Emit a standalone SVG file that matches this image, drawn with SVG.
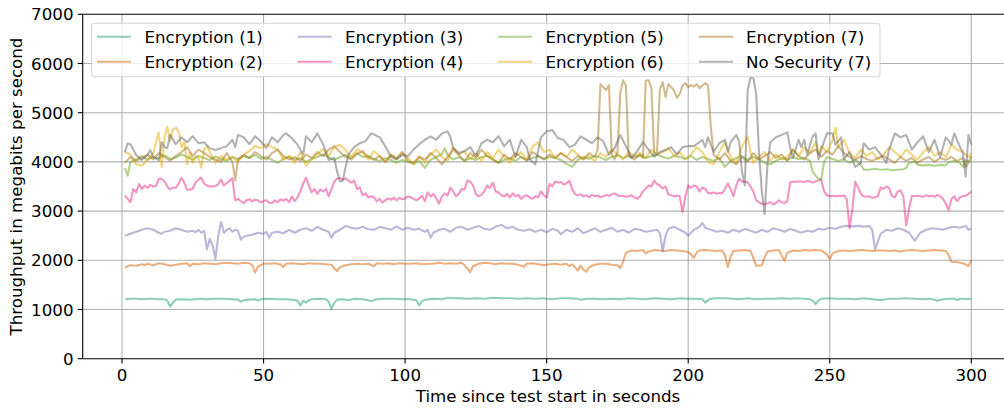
<svg xmlns="http://www.w3.org/2000/svg" width="1004" height="410" viewBox="0 0 1004 410">
<style>
text{font-family:"DejaVu Sans","Liberation Sans",sans-serif;font-size:16.67px;fill:#000}
.grid line{stroke:#b0b0b0;stroke-width:1.1}
.spine{stroke:#000;stroke-width:1.1;fill:none}
.tick{stroke:#000;stroke-width:1.1}
.s{fill:none;stroke-width:2.08;stroke-opacity:0.5;stroke-linejoin:round;vector-effect:non-scaling-stroke}
.h{stroke-width:2.08;stroke-opacity:0.5}
.c1{stroke:#1b9e77}.c2{stroke:#d95f02}.c3{stroke:#7570b3}.c4{stroke:#e7298a}
.c5{stroke:#66a61e}.c6{stroke:#e6ab02}.c7{stroke:#a6761d}.c8{stroke:#666666}
.yt{text-anchor:end}.xt{text-anchor:middle}
</style>
<rect width="1004" height="410" fill="#fff"/>
<g id="grid" class="grid">
<line x1="122" y1="14.3" x2="122" y2="358.7"/>
<line x1="263.55" y1="14.3" x2="263.55" y2="358.7"/>
<line x1="405.1" y1="14.3" x2="405.1" y2="358.7"/>
<line x1="546.65" y1="14.3" x2="546.65" y2="358.7"/>
<line x1="688.2" y1="14.3" x2="688.2" y2="358.7"/>
<line x1="829.75" y1="14.3" x2="829.75" y2="358.7"/>
<line x1="971.3" y1="14.3" x2="971.3" y2="358.7"/>
<line x1="82.7" y1="309.5" x2="1004" y2="309.5"/>
<line x1="82.7" y1="260.3" x2="1004" y2="260.3"/>
<line x1="82.7" y1="211.1" x2="1004" y2="211.1"/>
<line x1="82.7" y1="161.9" x2="1004" y2="161.9"/>
<line x1="82.7" y1="112.7" x2="1004" y2="112.7"/>
<line x1="82.7" y1="63.5" x2="1004" y2="63.5"/>
</g>
<g id="connectors" transform="translate(122,358.7) scale(2.831,-0.492)">
<polyline id="enc1" class="s c1" points="1,121 3,122 5,122 7,121 9,122 11,122 13,121 15,121 16,118 17,106 18,114 19,120 21,121 24,120 27,122 30,121 33,122 36,122 39,121 41,120 42,116 43,119 45,120 47,121 48,118 49,121 52,122 55,121 58,121 60,120 62,118 63,108 64,118 65,114 66,119 67,121 70,122 72,121 73,116 74,101 75,114 76,120 78,121 80,119 82,122 85,121 87,119 88,117 90,121 93,122 96,122 99,121 102,121 104,119 105,108 106,117 107,120 110,122 113,121 115,124 117,123 119,123 122,122 125,123 128,122 131,124 134,123 137,123 140,122 143,123 146,122 149,123 150,122 152,121 155,123 158,123 161,122 162,120 164,122 167,122 170,121 173,122 176,121 179,123 182,122 185,121 188,123 191,122 194,121 197,123 200,122 203,122 205,121 206,114 207,119 208,122 210,123 213,123 216,122 218,121 221,123 224,121 227,122 230,122 233,123 236,122 238,123 241,122 243,121 244,118 245,111 246,118 247,122 250,123 253,122 256,122 259,121 262,123 265,121 268,119 271,122 274,122 277,123 280,122 283,121 285,122 287,120 288,118 290,121 292,122 294,122 295,119 296,122 297,122 298,121 300,122"/>
<polyline id="enc2" class="s c2" points="1,185 2,188 3,190 5,189 7,192 8,190 9,193 11,190 13,194 15,192 17,189 19,191 21,193 23,194 24,188 25,193 27,192 29,194 31,193 33,192 35,194 37,195 39,194 41,193 43,195 45,194 46,190 47,175 48,187 50,193 52,193 54,194 56,192 57,186 58,193 60,194 62,193 64,192 66,194 68,193 70,193 72,192 74,191 75,184 76,178 77,186 79,190 81,192 83,193 85,192 87,193 89,188 90,194 92,193 94,194 96,192 98,194 100,193 102,193 104,194 106,192 108,193 110,193 112,195 114,193 116,194 118,193 120,195 121,190 122,183 123,176 124,188 126,193 128,195 130,194 132,192 134,194 136,193 138,193 140,191 142,187 143,193 145,194 147,192 149,190 151,192 153,193 155,191 157,193 158,188 159,192 160,186 161,179 162,189 163,181 164,177 165,186 167,191 169,193 171,193 173,191 175,190 176,184 177,197 178,215 180,220 182,219 184,221 185,214 186,218 188,221 190,220 192,219 194,221 196,220 198,219 200,217 201,212 202,205 203,216 204,220 206,221 208,220 210,219 212,220 213,210 214,186 215,208 216,219 218,220 220,221 222,219 223,205 224,189 226,190 227,206 228,218 230,220 232,221 233,210 234,199 235,215 237,220 239,219 241,221 243,220 245,221 247,220 249,212 250,202 251,214 253,219 255,220 257,219 259,220 261,221 263,220 265,219 267,220 269,220 271,219 273,220 275,218 277,220 279,221 281,220 283,219 285,220 287,221 289,220 291,219 292,210 293,197 295,196 297,194 298,192 299,188 300,201"/>
<polyline id="enc3" class="s c3" points="1,250 3,254 5,258 7,262 9,265 11,262 13,256 14,254 15,258 17,260 19,265 21,262 23,258 25,260 26,257 27,262 28,256 29,260 30,222 31,244 32,230 33,203 34,250 35,278 36,256 37,262 38,265 39,258 40,262 41,260 42,242 43,248 44,250 46,252 48,256 50,254 51,258 52,246 53,256 55,258 57,255 59,262 61,256 63,262 65,265 67,260 69,268 71,262 73,258 74,246 75,256 77,262 79,270 81,266 83,264 85,268 87,263 89,262 91,268 93,265 95,262 97,269 99,262 101,266 103,262 105,264 107,258 108,262 109,246 110,256 112,262 114,264 116,258 118,266 120,268 122,262 124,266 126,270 128,264 130,262 132,268 134,272 136,265 138,268 140,262 142,260 144,263 146,258 148,262 150,257 152,264 154,260 155,253 157,262 159,258 161,265 163,255 165,260 167,265 169,258 171,262 173,266 175,258 177,262 179,256 181,264 183,262 185,258 187,260 189,262 190,255 191,218 192,250 193,264 195,268 197,262 199,256 200,250 202,262 204,268 205,276 206,266 208,262 210,258 212,260 214,256 216,262 218,258 220,264 222,260 224,256 226,262 228,258 230,265 232,262 234,258 236,264 238,260 240,256 242,260 244,258 246,264 248,262 250,266 252,264 254,268 256,270 258,269 260,270 262,268 264,270 265,262 266,222 267,238 268,254 270,262 272,260 274,265 276,262 278,256 280,240 281,248 282,256 284,262 286,265 288,264 290,262 292,266 294,268 296,266 298,270 299,262 300,265"/>
<polyline id="enc4" class="s c4" points="1,332 2,325 3,318 4,345 5,338 6,355 7,345 8,352 9,347 10,353 11,350 12,351 13,365 14,366 15,360 16,350 17,344 18,348 19,347 20,356 21,368 22,358 23,344 24,343 25,346 26,358 27,364 28,368 29,356 30,352 31,350 32,350 33,351 34,355 35,364 36,352 37,357 38,362 39,367 40,322 41,325 42,320 43,316 44,322 45,324 46,320 47,323 48,322 49,318 50,320 51,322 52,317 53,316 54,322 55,318 56,324 57,321 58,325 59,318 60,330 61,320 62,328 63,340 64,356 65,368 66,352 67,338 68,345 69,335 70,344 71,340 72,345 73,330 74,345 75,360 76,366 77,367 78,365 79,366 80,362 81,358 82,362 83,345 84,348 85,332 86,336 87,328 88,330 89,328 90,320 91,325 92,317 93,322 94,326 95,323 96,327 97,322 98,327 99,324 100,325 101,330 102,328 103,325 104,322 105,326 106,331 107,320 108,338 109,330 110,335 111,326 112,315 113,330 114,336 115,332 116,348 117,340 118,330 119,335 120,345 121,344 122,362 123,360 124,352 125,335 126,330 127,333 128,340 129,352 130,347 131,358 132,340 133,338 134,332 135,330 136,335 137,328 138,336 139,330 140,333 141,325 142,330 143,332 144,328 145,325 146,330 147,328 148,340 149,332 150,328 151,355 152,350 153,360 154,358 155,359 156,354 157,356 158,362 159,345 160,335 161,332 162,334 163,330 164,332 165,328 166,333 167,330 168,332 169,328 170,330 171,333 172,331 173,334 174,336 175,332 176,330 177,331 178,329 179,330 180,332 181,328 182,325 183,330 184,340 185,346 186,352 187,350 188,362 189,355 190,352 191,346 192,350 193,334 194,332 195,330 196,331 197,330 198,298 199,330 200,352 201,347 202,352 203,350 204,340 205,348 206,345 207,337 208,336 209,338 210,335 211,337 212,336 213,345 214,356 215,345 216,330 217,352 218,366 219,360 220,360 221,358 222,350 223,340 224,322 225,318 226,315 227,314 228,316 229,318 230,314 231,316 232,322 233,318 234,316 235,320 236,358 237,360 238,359 239,360 240,360 241,359 242,361 243,360 244,358 245,360 246,362 247,365 248,340 249,332 250,330 251,331 252,330 253,331 254,330 255,332 256,325 257,265 258,305 259,360 260,348 261,335 262,330 263,329 264,330 265,327 266,328 267,330 268,348 269,345 270,350 271,347 272,330 273,328 274,340 275,342 276,330 277,271 278,305 279,331 280,330 281,331 282,330 283,329 284,332 285,330 286,331 287,329 288,333 289,330 290,325 291,315 292,302 293,325 294,330 295,320 296,328 297,330 298,331 299,335 300,340"/>
<polyline id="enc5" class="s c5" points="1,388 2,372 3,400 5,405 7,412 9,404 11,410 13,407 15,414 17,406 19,409 21,415 23,410 25,405 27,412 29,408 31,404 33,411 35,406 37,402 39,410 41,406 43,412 45,408 47,414 49,406 51,410 53,404 55,398 57,406 59,411 61,404 63,408 65,400 67,406 69,410 71,415 73,409 75,404 77,410 79,414 81,408 83,418 85,410 87,412 89,406 91,402 93,408 95,404 97,398 99,404 101,400 103,396 105,402 107,388 109,404 111,410 113,416 114,428 115,414 117,405 119,410 121,402 123,408 125,404 127,410 129,412 131,406 133,398 135,404 137,408 139,402 141,410 143,404 145,408 147,412 149,406 151,410 153,408 155,404 157,396 159,390 161,404 163,410 165,406 167,412 169,409 171,404 173,410 175,414 177,408 179,412 181,410 183,413 185,408 187,412 189,415 191,410 193,407 195,412 197,410 199,406 201,412 203,404 205,410 207,406 209,402 211,408 213,390 215,402 217,408 219,412 221,404 223,410 225,406 227,398 229,395 231,402 233,408 235,404 237,410 239,406 241,408 243,402 244,380 245,372 246,366 247,364 248,400 249,410 251,406 253,402 255,405 257,398 259,404 261,395 262,384 264,384 266,386 268,384 270,385 272,383 274,384 276,385 277,388 278,398 280,401 281,394 283,393 285,394 287,392 289,394 291,393 292,400 294,402 296,398 297,390 298,403 300,400"/>
<polyline id="enc6" class="s c6" points="1,420 3,415 5,395 7,392 9,405 11,416 12,440 13,460 14,390 15,450 16,472 17,442 18,465 19,470 20,462 21,430 22,440 23,395 24,418 25,398 26,412 27,408 28,388 29,425 30,432 31,420 33,398 35,412 37,404 39,410 41,400 43,415 45,422 47,432 49,428 51,436 53,430 55,425 57,404 59,412 61,398 63,420 65,392 67,405 69,416 71,426 73,412 75,430 77,435 79,424 81,410 83,426 85,418 87,405 89,422 91,412 93,400 95,415 97,405 99,418 101,408 103,395 105,412 107,398 109,415 111,425 113,410 115,402 117,430 119,415 121,422 123,405 125,418 127,402 129,420 131,408 133,425 135,410 137,398 139,412 141,420 143,405 145,430 147,440 149,420 151,425 153,408 155,418 157,410 159,425 161,415 163,405 165,412 167,402 169,418 171,410 173,425 175,415 177,405 179,420 181,412 183,418 185,408 187,425 189,415 191,420 193,428 195,412 197,420 199,405 201,415 203,430 205,420 207,400 209,395 211,420 213,440 215,410 217,398 219,430 221,452 222,420 223,398 225,410 227,420 229,402 231,415 233,405 235,410 237,425 239,412 241,430 243,418 245,440 246,415 247,432 249,420 251,445 252,470 253,430 255,445 257,418 259,408 261,425 263,412 265,420 267,405 269,415 271,430 273,420 275,410 277,425 279,415 281,405 283,420 285,430 287,412 289,420 291,410 293,435 295,425 297,420 299,410 300,418"/>
<polyline id="enc7" class="s c7" points="1,398 3,410 5,402 7,408 9,415 11,405 13,418 15,410 17,402 19,412 21,420 23,430 25,412 27,425 29,418 31,410 33,405 35,400 37,418 39,400 40,362 41,405 43,414 45,408 47,420 49,412 51,405 53,418 55,425 57,412 59,405 61,410 63,402 65,415 67,408 69,420 71,412 73,425 75,432 77,420 79,410 81,405 83,416 85,422 87,410 89,404 91,412 93,400 95,414 97,408 99,420 101,402 103,398 105,410 107,405 109,418 111,408 113,395 115,410 117,425 119,414 121,402 123,418 125,408 127,425 129,412 131,404 133,398 135,415 137,405 139,418 141,410 143,402 145,420 147,412 149,405 151,415 153,408 155,418 157,410 159,402 161,412 163,405 165,418 167,410 168,425 169,558 170,552 171,546 172,556 173,415 174,405 175,418 176,540 177,566 178,555 179,412 181,405 183,415 184,408 185,565 186,566 187,550 188,415 189,420 190,548 191,562 192,532 193,558 194,552 195,545 196,530 197,538 198,555 199,560 200,552 201,556 202,553 203,558 204,550 205,555 206,560 207,556 208,470 209,415 211,405 213,418 215,402 217,395 219,410 221,400 223,418 225,405 227,412 229,420 231,408 233,415 235,402 237,425 239,412 241,405 243,418 245,425 247,410 249,422 251,415 253,432 255,418 257,410 259,404 261,412 263,406 265,402 267,408 269,412 271,405 273,398 275,410 277,402 279,408 281,398 283,405 285,410 287,400 289,408 291,404 293,410 295,402 297,408 298,390 299,398 300,412"/>
<polyline id="nosec7" class="s c8" points="1,420 2,438 3,436 5,414 7,404 9,414 10,424 11,410 13,403 14,440 15,430 16,428 17,455 19,436 21,450 23,440 25,452 27,438 29,440 31,428 33,424 35,428 37,432 39,445 40,430 41,455 43,450 45,436 47,452 49,442 51,428 53,450 55,440 57,455 58,458 60,448 62,435 64,415 65,452 67,440 69,458 71,436 73,404 75,408 76,380 77,360 78,362 79,390 80,415 82,430 84,438 86,442 88,458 89,456 91,450 93,432 95,410 97,405 99,414 101,412 103,425 105,436 107,445 109,452 111,445 113,458 115,462 116,450 117,428 119,418 121,422 123,430 125,412 127,438 129,445 131,440 133,452 135,432 137,445 139,410 141,445 143,430 144,405 146,395 148,450 150,462 152,465 154,448 156,445 158,430 160,435 162,452 164,445 166,438 168,450 170,442 172,415 174,428 176,455 178,432 180,408 182,422 184,440 186,425 188,410 190,420 192,424 194,430 196,415 198,430 200,432 202,432 204,440 205,445 206,430 207,450 209,420 211,438 213,445 214,420 215,440 217,455 218,440 219,380 220,352 221,545 222,572 223,570 224,540 225,420 226,340 227,294 228,395 229,440 231,450 233,455 235,460 236,430 237,408 239,445 240,430 241,445 242,415 244,452 245,458 246,405 247,425 249,458 251,458 252,435 254,450 255,405 257,420 259,390 261,398 262,438 264,425 266,430 268,415 270,398 271,425 273,458 275,450 277,455 279,425 281,440 283,452 285,420 287,445 289,410 291,450 293,435 294,458 296,430 297,420 298,370 299,455 300,435"/>
</g>
<g id="axes">
<path class="spine" d="M82.7,358.7 H1004 M82.7,358.7 V14.3 H1004"/>
<g class="tick">
<line x1="77.8" y1="358.7" x2="82.7" y2="358.7"/>
<line x1="77.8" y1="309.5" x2="82.7" y2="309.5"/>
<line x1="77.8" y1="260.3" x2="82.7" y2="260.3"/>
<line x1="77.8" y1="211.1" x2="82.7" y2="211.1"/>
<line x1="77.8" y1="161.9" x2="82.7" y2="161.9"/>
<line x1="77.8" y1="112.7" x2="82.7" y2="112.7"/>
<line x1="77.8" y1="63.5" x2="82.7" y2="63.5"/>
<line x1="77.8" y1="14.3" x2="82.7" y2="14.3"/>
<line x1="122" y1="358.7" x2="122" y2="363.6"/>
<line x1="263.55" y1="358.7" x2="263.55" y2="363.6"/>
<line x1="405.1" y1="358.7" x2="405.1" y2="363.6"/>
<line x1="546.65" y1="358.7" x2="546.65" y2="363.6"/>
<line x1="688.2" y1="358.7" x2="688.2" y2="363.6"/>
<line x1="829.75" y1="358.7" x2="829.75" y2="363.6"/>
<line x1="971.3" y1="358.7" x2="971.3" y2="363.6"/>
</g>
<text class="yt" x="73.5" y="364.7">0</text>
<text class="yt" x="73.5" y="315.5">1000</text>
<text class="yt" x="73.5" y="266.3">2000</text>
<text class="yt" x="73.5" y="217.1">3000</text>
<text class="yt" x="73.5" y="167.9">4000</text>
<text class="yt" x="73.5" y="118.7">5000</text>
<text class="yt" x="73.5" y="69.5">6000</text>
<text class="yt" x="73.5" y="20.3">7000</text>
<text class="xt" x="122" y="380.6">0</text>
<text class="xt" x="263.55" y="380.6">50</text>
<text class="xt" x="405.1" y="380.6">100</text>
<text class="xt" x="546.65" y="380.6">150</text>
<text class="xt" x="688.2" y="380.6">200</text>
<text class="xt" x="829.75" y="380.6">250</text>
<text class="xt" x="971.3" y="380.6">300</text>
<text class="xt" x="548" y="401.5">Time since test start in seconds</text>
<text class="xt" transform="translate(21.8,186.5) rotate(-90)">Throughput in megabits per second</text>
</g>
<g id="legend">
<rect x="91.7" y="23.3" width="788.3" height="53.4" rx="3.3" fill="#fff" fill-opacity="0.8" stroke="#ccc" stroke-opacity="0.8" stroke-width="1.1"/>
<g id="leg-enc1"><line class="h c1" x1="97" y1="36.7" x2="131" y2="36.7"/><text x="144.5" y="42.7">Encryption (1)</text></g>
<g id="leg-enc2"><line class="h c2" x1="97" y1="61.7" x2="131" y2="61.7"/><text x="144.5" y="67.7">Encryption (2)</text></g>
<g id="leg-enc3"><line class="h c3" x1="297.7" y1="36.7" x2="331.7" y2="36.7"/><text x="345" y="42.7">Encryption (3)</text></g>
<g id="leg-enc4"><line class="h c4" x1="297.7" y1="61.7" x2="331.7" y2="61.7"/><text x="345" y="67.7">Encryption (4)</text></g>
<g id="leg-enc5"><line class="h c5" x1="498.3" y1="36.7" x2="532.3" y2="36.7"/><text x="545.5" y="42.7">Encryption (5)</text></g>
<g id="leg-enc6"><line class="h c6" x1="498.3" y1="61.7" x2="532.3" y2="61.7"/><text x="545.5" y="67.7">Encryption (6)</text></g>
<g id="leg-enc7"><line class="h c7" x1="699" y1="36.7" x2="733" y2="36.7"/><text x="746" y="42.7">Encryption (7)</text></g>
<g id="leg-nosec"><line class="h c8" x1="699" y1="61.7" x2="733" y2="61.7"/><text x="746" y="67.7">No Security (7)</text></g>
</g>
</svg>
